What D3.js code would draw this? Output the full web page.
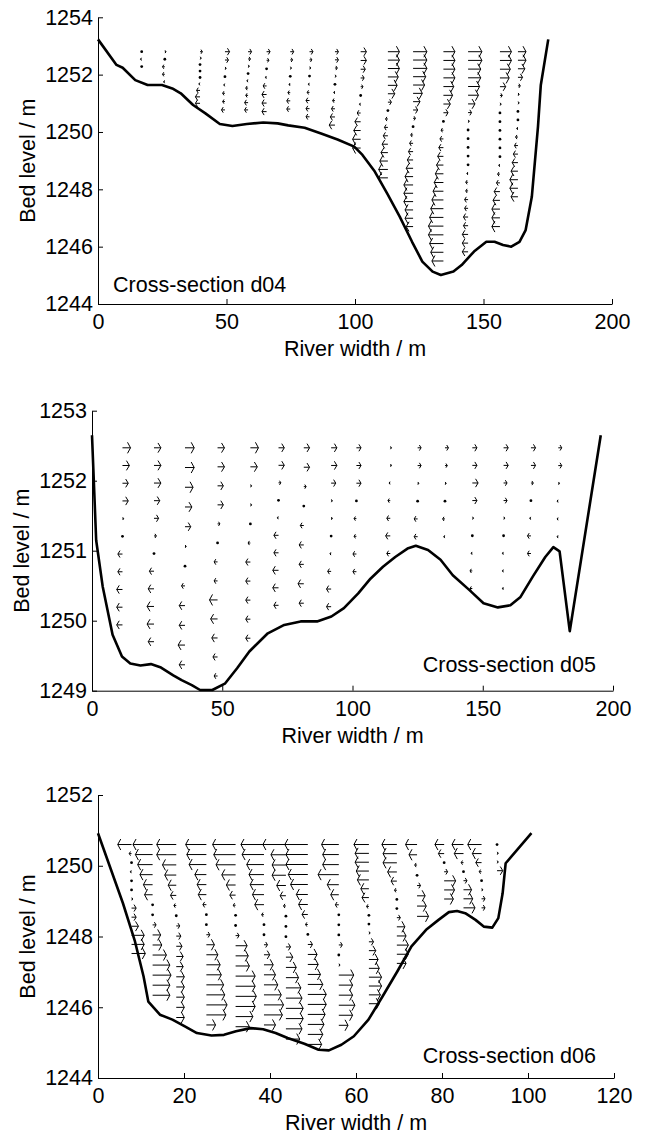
<!DOCTYPE html>
<html><head><meta charset="utf-8">
<script src="https://cdn.jsdelivr.net/npm/d3@7"></script>
<style>body{margin:0;background:#fff}svg{display:block}text{font-family:"Liberation Sans",Arial,sans-serif}</style>
</head><body><svg id="c" width="646" height="1135"></svg>
<script>
// ---------------- Cross-section d04 ----------------
const d04BedX = [0,7.2,9.6,14.5,19.3,24.9,28.9,32.2,37,41.8,47.4,52.3,57.9,64.3,69.9,74,80.4,86.8,93.2,99.7,102.9,107.7,112.5,117.4,122.2,126.2,130.2,133.4,138.3,141.5,146.3,151.1,154.3,157.6,160.8,164,166.4,168.8,171.2,172.3,175.2];
const d04BedZ = [1253.23,1252.34,1252.24,1251.81,1251.64,1251.64,1251.52,1251.35,1250.94,1250.65,1250.28,1250.21,1250.28,1250.33,1250.3,1250.23,1250.15,1249.95,1249.74,1249.49,1249.2,1248.62,1247.86,1247.05,1246.17,1245.48,1245.13,1245.01,1245.13,1245.36,1245.83,1246.17,1246.17,1246.06,1246,1246.17,1246.58,1247.74,1250.19,1251.64,1253.23];
const d04ProfX = [17,26,39.7,49.4,58.4,65.6,74.8,82.3,92.2,102.2,112.8,122.6,134.4,144,156.4,163.4];
const d04TopZ = 1252.8;
const d04ProfBottom = [1252.28,1251.75,1251.0,1250.77,1250.77,1250.71,1250.8,1250.53,1250.24,1249.44,1248.4,1246.7,1245.5,1245.82,1246.7,1247.74];
const d04LatVel = [
 [0,-1,0],
 [1,0,-2,-2,-1],
 [2,1,0,0,0,-1,-3,-4,-4],
 [4,3,1,0,-1,-2,-2,-3],
 [3,2,1,0,-1,-2,-2,-3,-3],
 [3,2,0,-1,-3,-4,-4,-4],
 [3,2,1,0,-1,-2,-3,-3],
 [3,2,1,0,-1,-2,-3,-3,-3],
 [3,3,2,1,0,-1,-2,-3,-4,-5],
 [5,5,4,3,2,0,-1,-3,-5,-6,-7,-7],
 [10,10,10,9,8,6,3,0,-2,-3,-4,-5,-6,-7,-8,-8],
 [12,12,12,11,10,8,6,4,2,0,-2,-3,-4,-5,-6,-7,-8,-8,-8,-7,-7,-6],
 [10,10,10,10,9,8,6,4,0,-2,-3,-4,-5,-6,-7,-8,-9,-10,-11,-12,-13,-13,-12,-11,-10],
 [12,12,11,11,10,9,6,3,1,0,0,0,0,0,-1,-2,-2,-3,-3,-4,-4,-5,-5,-5],
 [10,10,9,8,5,2,1,0,0,0,0,0,0,-1,-2,-3,-5,-6,-7,-7,-7],
 [7,7,6,4,2,1,1,0,0,-1,-2,-3,-4,-5,-6,-7,-7,-6]
];
const d04XTicks = [0,50,100,150,200];
const d04YTicks = [1244,1246,1248,1250,1252,1254];

// ---------------- Cross-section d05 ----------------
const d05BedX = [0,1.6,4.1,7.9,11.5,14.7,18.6,22.6,26.5,31.2,34.4,38.3,41.5,46.2,51,55.7,60.4,67.5,73.8,80.1,86.4,91.9,96.7,102.2,106.9,111.7,116.4,121.1,124.3,129,133.8,138.5,144.8,150.3,155.8,160.6,164.5,169.2,174,177.1,179.5,183.4,195.3];
const d05BedZ = [1252.65,1251.15,1250.49,1249.8,1249.49,1249.39,1249.36,1249.38,1249.33,1249.22,1249.15,1249.08,1249.01,1249.01,1249.1,1249.32,1249.56,1249.82,1249.94,1249.99,1249.99,1250.06,1250.18,1250.39,1250.6,1250.77,1250.91,1251.03,1251.07,1251.01,1250.87,1250.65,1250.44,1250.25,1250.19,1250.22,1250.34,1250.63,1250.91,1251.05,1250.99,1249.85,1252.65];
const d05ProfX = [11.7,23.8,35.7,48.2,60.8,71.6,81.3,91.8,101.5,114.5,125,135.5,146,158,168.5,179];
const d05TopZ = 1252.47;
const d05ProfBottom = [1249.94,1249.7,1249.37,1249.21,1249.75,1250.22,1250.25,1250.2,1250.7,1250.96,1251.2,1251.2,1250.46,1250.46,1250.96,1251.2];
const d05LatVel = [
 [7,6,5,5,1,0,-4,-4,-5,-5,-5],
 [6,6,6,5,4,2,0,-4,-5,-6,-6,-5],
 [8,8,7,6,5,1,0,-3,-5,-5,-6,-5],
 [6,6,5,5,2,0,-3,-3,-7,-6,-5,-4,-3],
 [7,6,1,1,0,-2,-4,-4,-4,-4,-4],
 [5,5,2,0,-1,-4,-4,-5,-5,-4],
 [5,5,2,0,-3,-4,-4,-5,-4],
 [5,5,4,1,1,0,-1,-3,-4,-4],
 [4,4,4,0,-2,-2,-3,-3],
 [1,1,-1,-2,-3,-4,-3],
 [3,3,1,0,-3,-3],
 [3,2,1,0,-2,-1],
 [4,4,5,4,1,0,-1,-2,-2],
 [4,4,3,3,1,0,-1,-1,-1],
 [4,4,2,0,-1,-3,-3],
 [3,3,1,-1,-1,-1]
];
const d05XTicks = [0,50,100,150,200];
const d05YTicks = [1249,1250,1251,1252,1253];

// ---------------- Cross-section d06 ----------------
const d06BedX = [0,2.9,5.8,8.6,10.6,11.7,14.4,17.3,20.2,23,26.4,29.3,32.1,35.5,38.4,41.3,44.1,48,51.3,53.7,56.6,59.5,62.9,66.2,69.6,72.9,76.3,79.2,81.6,83.5,85.4,87.8,89.7,91.7,93.1,94.1,94.8,100.8];
const d06BedZ = [1250.92,1249.93,1248.94,1247.86,1246.87,1246.16,1245.79,1245.65,1245.46,1245.27,1245.2,1245.22,1245.32,1245.41,1245.38,1245.27,1245.13,1244.97,1244.8,1244.78,1244.94,1245.18,1245.65,1246.31,1247.01,1247.72,1248.19,1248.47,1248.69,1248.72,1248.66,1248.47,1248.28,1248.25,1248.52,1249.22,1250.07,1250.92];
const d06ProfX = [7.8,12.7,18.2,25.2,32,38.6,43.7,48.8,56,63,69.5,74.2,80.5,85,89.2,92.8];
const d06TopZ = 1250.6;
const d06ProfBottom = [1247.52,1246.34,1245.71,1245.5,1245.45,1245.5,1245.1,1244.95,1245.49,1246.1,1247.24,1248.57,1249.06,1248.81,1248.81,1249.86];
const d06LatVel = [
 [-12,-2,0,-1,0,0,1,4,4,6,11,11,12],
 [-17,-15,-13,-11,-8,-7,0,0,3,7,8,12,15,16,15,15],
 [-17,-17,-12,-10,-7,-5,-2,0,3,4,5,6,6,7,7,7,7,7],
 [-18,-17,-15,-10,-8,-7,-3,0,0,3,7,10,12,13,15,16,18,17,8],
 [-20,-19,-17,-12,-8,-5,-2,0,0,3,10,11,12,17,17,18,17,15,12],
 [-20,-19,-15,-13,-12,-10,-8,-2,0,0,3,5,8,10,12,15,17,16,10],
 [-20,-13,-12,-12,-8,-5,-2,0,0,0,4,6,9,11,13,14,15,15,14,12],
 [-20,-19,-19,-17,-15,-10,-8,-5,-2,0,4,8,9,11,13,16,16,15,14,13,12],
 [-15,-14,-14,-18,-10,-7,-3,0,0,0,3,0,1,13,12,12,14,12,8],
 [-13,-12,-12,-11,-10,-7,-6,-2,0,0,1,4,6,8,9,11,11,10,9],
 [-13,-12,-12,-8,-5,-2,0,0,3,7,8,10,10,8],
 [-10,-7,-2,0,3,7,8,10],
 [-8,-5,0,3,10,9,8],
 [-10,-8,-2,0,3,7,8,10],
 [-12,-8,-5,-2,0,1,3,3],
 [0,1,1,5]
];
const d06XTicks = [0,20,40,60,80,100,120];
const d06YTicks = [1244,1246,1248,1250,1252];

const xTitle = "River width / m";
const yTitle = "Bed level / m";
const sectionLabels = ["Cross-section d04","Cross-section d05","Cross-section d06"];

// ---------------- layout ----------------
const panels = [
 {bedX:d04BedX,bedZ:d04BedZ,profX:d04ProfX,profBottom:d04ProfBottom,topZ:d04TopZ,vel:d04LatVel,
  xDom:[0,200],xTicks:d04XTicks,yDom:[1244,1254],yTicks:d04YTicks,label:sectionLabels[0],
  px:[98,612],py:[304,17.3],lab:{x:113,y:292,a:"start"},yTitleX:27},
 {bedX:d05BedX,bedZ:d05BedZ,profX:d05ProfX,profBottom:d05ProfBottom,topZ:d05TopZ,vel:d05LatVel,
  xDom:[0,200],xTicks:d05XTicks,yDom:[1249,1253],yTicks:d05YTicks,label:sectionLabels[1],
  px:[92,613],py:[690.7,410.7],lab:{x:596,y:672,a:"end"},yTitleX:21},
 {bedX:d06BedX,bedZ:d06BedZ,profX:d06ProfX,profBottom:d06ProfBottom,topZ:d06TopZ,vel:d06LatVel,
  xDom:[0,120],xTicks:d06XTicks,yDom:[1244,1252],yTicks:d06YTicks,label:sectionLabels[2],
  px:[98,614],py:[1078,795],lab:{x:596,y:1063,a:"end"},yTitleX:27}
];

const svg = d3.select("#c");
const FS = 21.5;
const velScale = 1.15;

function arrowPath(x0,y0,L){
  const s = Math.sign(L), m = Math.abs(L);
  const a = Math.min(0.35*m,2.5)+0.5;
  const b = Math.min(0.6*m,4.8)+0.7;
  const x1 = x0+L;
  return `M${x0},${y0}L${x1},${y0}M${x1-s*a},${y0-b}L${x1},${y0}L${x1-s*a},${y0+b}`;
}

panels.forEach(p=>{
  const x = d3.scaleLinear().domain(p.xDom).range(p.px);
  const y = d3.scaleLinear().domain(p.yDom).range(p.py);
  const g = svg.append("g");

  // velocity vectors
  const vg = g.append("g");
  p.profX.forEach((px,i)=>{
    const u = p.vel[i], n = u.length;
    const dz = n>1 ? (p.topZ - p.profBottom[i])/(n-1) : 0;
    u.forEach((v,j)=>{
      const z = p.topZ - j*dz;
      const X = x(px), Y = y(z);
      if (Math.abs(v) < 0.5) {
        vg.append("circle").attr("cx",X).attr("cy",Y).attr("r",1.4).attr("fill","#000");
      } else {
        vg.append("path").attr("d",arrowPath(X,Y,v*velScale))
          .attr("fill","none").attr("stroke","#000").attr("stroke-width",1.0);
      }
    });
  });

  // bed line
  const bed = p.bedX.map((d,i)=>[d,p.bedZ[i]]);
  g.append("path").datum(bed)
    .attr("d",d3.line().x(d=>x(d[0])).y(d=>y(d[1])))
    .attr("fill","none").attr("stroke","#000").attr("stroke-width",2.6).attr("stroke-linejoin","round");

  // axes
  const ax = g.append("g").attr("transform",`translate(0,${p.py[0]})`)
    .call(d3.axisBottom(x).tickValues(p.xTicks).tickSizeInner(-5).tickSizeOuter(0).tickPadding(10).tickFormat(d3.format("d")));
  const ay = g.append("g").attr("transform",`translate(${p.px[0]},0)`)
    .call(d3.axisLeft(y).tickValues(p.yTicks).tickSizeInner(-5).tickSizeOuter(0).tickPadding(5).tickFormat(d3.format("d")));
  [ax,ay].forEach(a=>{
    a.selectAll("text").attr("font-size",FS).attr("fill","#000").attr("font-family","Liberation Sans, Arial, sans-serif");
    a.selectAll("line").attr("stroke","#000");
    a.select(".domain").attr("stroke","#000");
  });

  // titles
  g.append("text").attr("x",(p.px[0]+p.px[1])/2).attr("y",p.py[0]+52)
    .attr("text-anchor","middle").attr("font-size",FS).text(xTitle);
  g.append("text").attr("transform",`translate(${p.yTitleX},${(p.py[0]+p.py[1])/2}) rotate(-90)`)
    .attr("text-anchor","middle").attr("dy","0.36em").attr("font-size",FS).text(yTitle);
  g.append("text").attr("x",p.lab.x).attr("y",p.lab.y).attr("text-anchor",p.lab.a)
    .attr("font-size",FS).text(p.label);
});
</script></body></html>
